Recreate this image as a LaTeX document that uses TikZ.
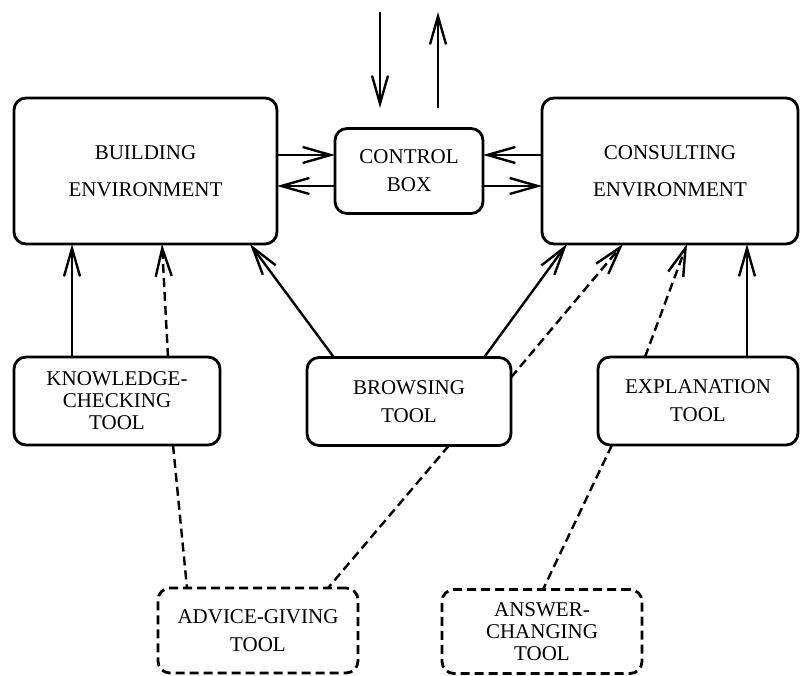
\documentclass[tikz,border=0pt]{standalone}
\usepackage{fontspec}
\setmainfont{Liberation Serif}
\usetikzlibrary{positioning, arrows.meta}

\begin{document}
\begin{tikzpicture}[
    x=1pt, y=1pt,
    >={Straight Barb[length=28pt, width=16pt]},
    node distance=58pt,
    toolbox/.style={draw, line width=2.8pt, rounded corners=12pt, align=center, inner sep=0pt, outer sep=0pt,
        minimum width=200pt, minimum height=88pt, font=\fontsize{21}{28}\selectfont},
    envbox/.style={toolbox, minimum width=263pt, minimum height=146pt, font=\fontsize{21}{37}\selectfont},
    tallbox/.style={font=\fontsize{21}{22}\selectfont},
    extrabox/.style={toolbox, dash pattern=on 9pt off 5pt, minimum height=85pt},
    link/.style={line width=2.4pt},
    dlink/.style={link, dash pattern=on 9pt off 5pt}
]
    \useasboundingbox (0,0) rectangle (804,-676);

    % --- ENVIRONMENTS ---
    \node[envbox] (build) at (145.5,-171) {BUILDING\\ENVIRONMENT};
    \node[toolbox, right=of build, minimum width=148pt, minimum height=85pt] (ctrl) {CONTROL\\BOX};
    \node[envbox, right=59pt of ctrl, minimum width=256pt] (consult) {CONSULTING\\ENVIRONMENT};

    % --- TOOLS ---
    \node[toolbox, tallbox, below right=113pt and 0pt of build.south west, minimum width=206pt] (check) {KNOWLEDGE-\\CHECKING\\TOOL};
    \node[toolbox, below=144pt of ctrl.south, minimum width=204pt] (browse) {BROWSING\\TOOL};
    \node[toolbox, below left=113pt and 0pt of consult.south east] (explain) {EXPLANATION\\TOOL};

    % dashed (optional) tools
    \node[extrabox, below right=143pt and 144pt of check.south west] (advice) {ADVICE-GIVING\\TOOL};
    \node[extrabox, tallbox, right=84pt of advice, yshift=-1pt, minimum height=84pt] (answer) {ANSWER-\\CHANGING\\TOOL};

    % outside world
    \coordinate (inTop) at (380,-12);
    \coordinate (inEnd) at (380,-108);
    \coordinate (outTop) at (438,-12);
    \coordinate (outEnd) at (438,-108);

    % --- CONTROL FLOW ---
    \draw[link, ->] (inTop) -- (inEnd);
    \draw[link, ->] (outEnd) -- (outTop);
    \draw[link, ->] ([yshift=16pt]build.east) -- ([yshift=16pt]build.east -| ctrl.west);
    \draw[link, ->] ([yshift=-15pt]build.east -| ctrl.west) -- ([yshift=-15pt]build.east);
    \draw[link, ->] ([yshift=16pt]consult.west) -- ([yshift=16pt]consult.west -| ctrl.east);
    \draw[link, ->] ([yshift=-15pt]consult.west -| ctrl.east) -- ([yshift=-15pt]consult.west);

    % --- TOOLS TO ENVIRONMENTS ---
    \draw[link, ->] ([xshift=-45pt]check.north) -- ([xshift=-45pt]check.north |- build.south);
    \draw[dlink, ->] ([xshift=51pt]check.north) -- ([xshift=16.5pt]build.south);
    \draw[link, ->] ([xshift=-75pt]browse.north) -- ([xshift=104.5pt]build.south);
    \draw[link, ->] ([xshift=75pt]browse.north) -- ([xshift=-103pt]consult.south);
    \draw[dlink, ->] ([yshift=24pt]browse.east) -- ([xshift=-47pt]consult.south);
    \draw[dlink, ->] ([xshift=-53pt]explain.north) -- ([xshift=17pt]consult.south);
    \draw[link, ->] ([xshift=49pt]explain.north) -- ([xshift=49pt]explain.north |- consult.south);

    % --- OPTIONAL TOOLS ---
    \draw[dlink] ([xshift=56pt]check.south) -- ([xshift=-71pt]advice.north);
    \draw[dlink] ([xshift=40pt]browse.south) -- ([xshift=70pt]advice.north);
    \draw[dlink] ([xshift=-86pt]explain.south) -- ([xshift=1pt]answer.north);

\end{tikzpicture}
\end{document}
